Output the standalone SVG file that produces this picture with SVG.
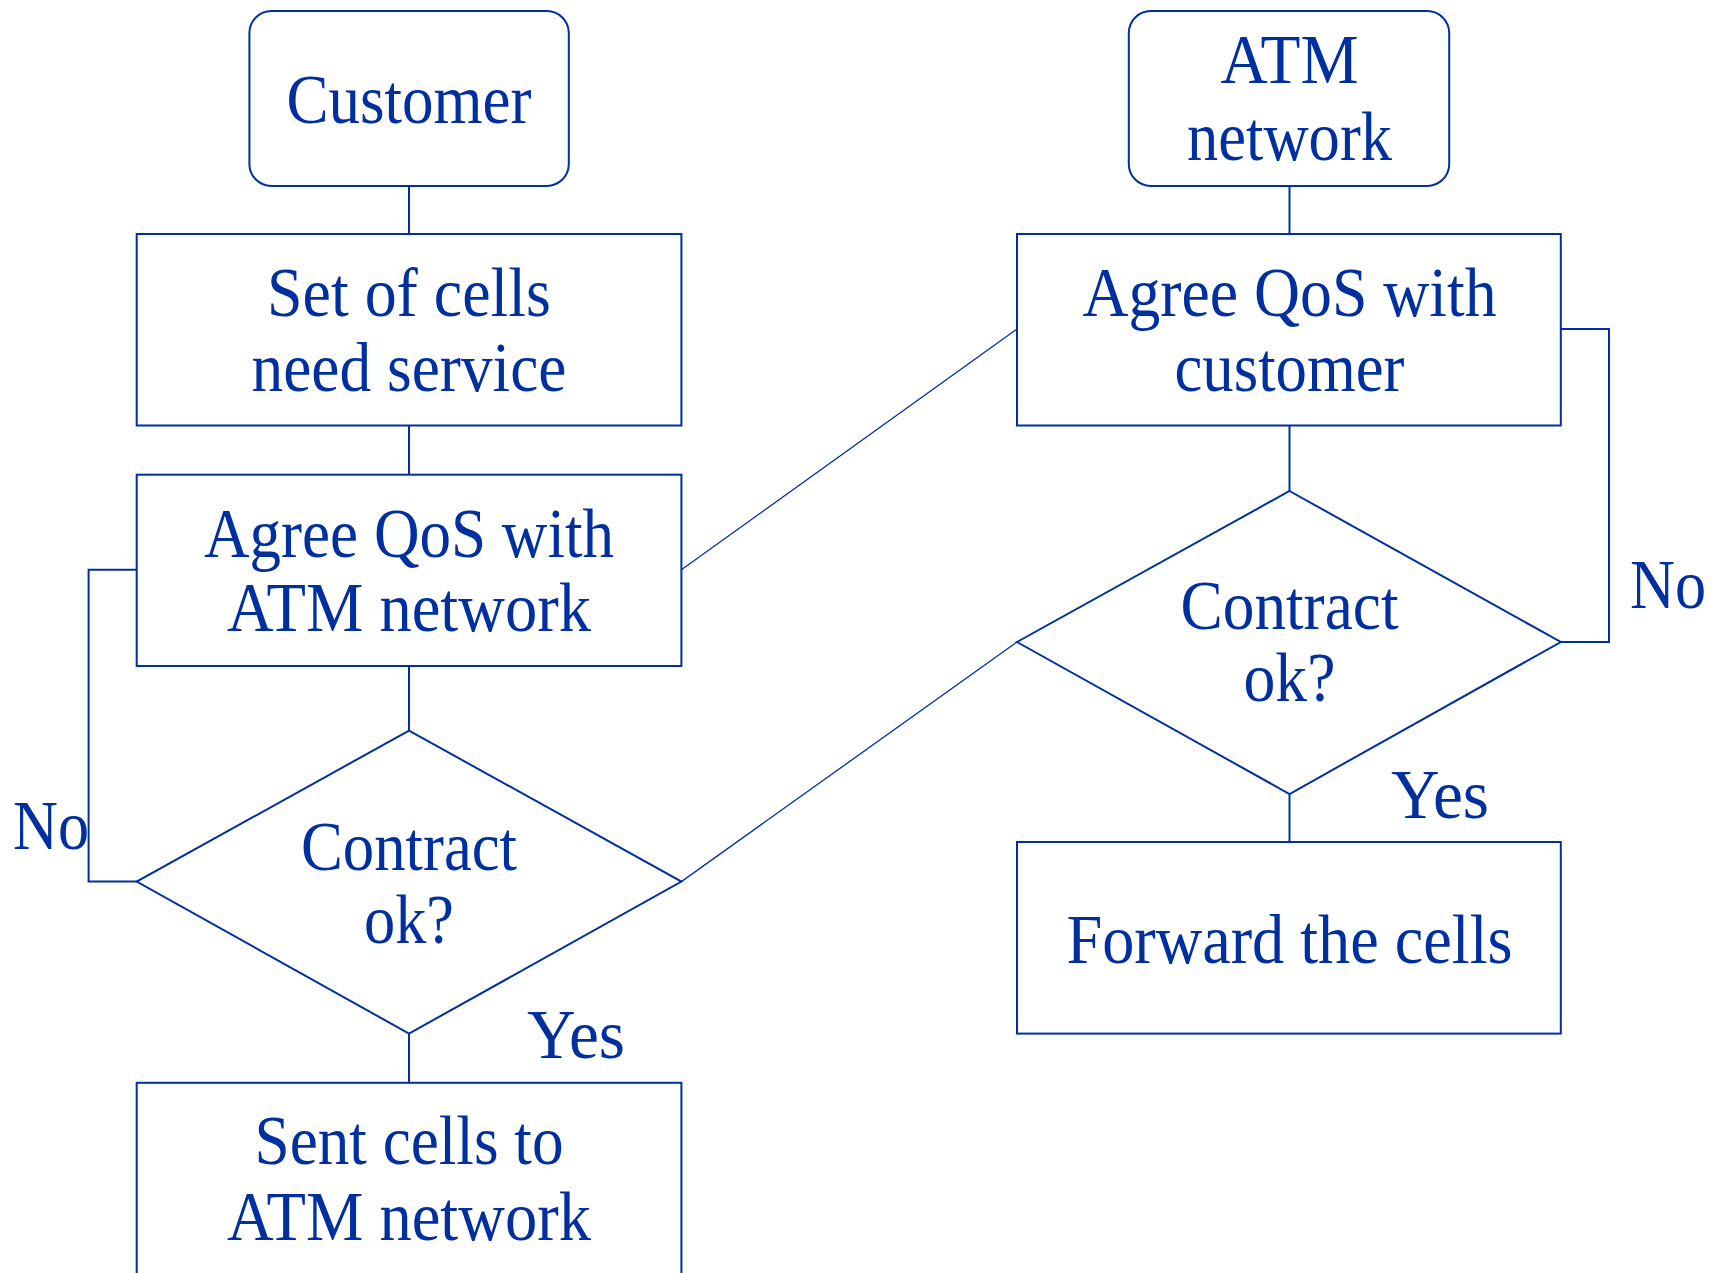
<svg xmlns="http://www.w3.org/2000/svg" width="1715" height="1273" viewBox="0 0 1715 1273">
<style>
.n{fill:#fff;stroke:#0030a0;stroke-width:2}
.c{fill:none;stroke:#0030a0;stroke-width:2}
.thin{fill:none;stroke:#0030a0;stroke-width:1.3}
text{font-family:"Liberation Serif","Times New Roman",serif;font-size:70px;fill:#0030a0;text-anchor:middle}
.l{text-anchor:start}
</style>
<rect width="1715" height="1273" fill="#fff"/>
<g id="connectors">
<line class="c" x1="409" y1="186" x2="409" y2="234"/>
<line class="c" x1="409" y1="425.5" x2="409" y2="474.7"/>
<line class="c" x1="409" y1="666" x2="409" y2="730.6"/>
<line class="c" x1="409" y1="1033.6" x2="409" y2="1082.8"/>
<polyline class="c" points="136.7,569.8 88.6,569.8 88.6,881.6 136.7,881.6"/>
<line class="c" x1="1289.5" y1="186" x2="1289.5" y2="234"/>
<line class="c" x1="1289.5" y1="425.5" x2="1289.5" y2="491"/>
<line class="c" x1="1289.5" y1="794" x2="1289.5" y2="842"/>
<polyline class="c" points="1560.8,329 1609,329 1609,642 1560.8,642"/>
<line class="thin" x1="681.4" y1="569.8" x2="1017" y2="329"/>
<line class="thin" x1="681.4" y1="881.6" x2="1017" y2="642"/>
<text class="l" x="13" y="849" textLength="76" lengthAdjust="spacingAndGlyphs">No</text>
<text class="l" x="527" y="1058" textLength="98" lengthAdjust="spacingAndGlyphs">Yes</text>
<text class="l" x="1630" y="608" textLength="76" lengthAdjust="spacingAndGlyphs">No</text>
<text class="l" x="1391" y="818" textLength="98" lengthAdjust="spacingAndGlyphs">Yes</text>
</g>
<g id="customer">
<rect class="n" x="249.4" y="11" width="319.4" height="175" rx="22"/>
<text x="409" y="122.5" textLength="245" lengthAdjust="spacingAndGlyphs">Customer</text>
</g>
<g id="atm-network">
<rect class="n" x="1128.8" y="11" width="320.4" height="175" rx="22"/>
<text x="1289.5" y="83" textLength="138" lengthAdjust="spacingAndGlyphs">ATM</text>
<text x="1289.5" y="160" textLength="205" lengthAdjust="spacingAndGlyphs">network</text>
</g>
<g id="set-of-cells">
<rect class="n" x="136.7" y="234" width="544.7" height="191.5"/>
<text x="409" y="316" textLength="284" lengthAdjust="spacingAndGlyphs">Set of cells</text>
<text x="409" y="390.5" textLength="315" lengthAdjust="spacingAndGlyphs">need service</text>
</g>
<g id="agree-atm">
<rect class="n" x="136.7" y="474.7" width="544.7" height="191.3"/>
<text x="409" y="557" textLength="410" lengthAdjust="spacingAndGlyphs">Agree QoS with</text>
<text x="409" y="631" textLength="364" lengthAdjust="spacingAndGlyphs">ATM network</text>
</g>
<g id="contract-left">
<polygon class="n" points="409,730.6 681.4,881.6 409,1033.6 136.7,881.6"/>
<text x="409" y="869.5" textLength="216" lengthAdjust="spacingAndGlyphs">Contract</text>
<text x="409" y="943" textLength="90" lengthAdjust="spacingAndGlyphs">ok?</text>
</g>
<g id="sent-cells">
<rect class="n" x="136.7" y="1082.8" width="544.7" height="260"/>
<text x="409" y="1164" textLength="309" lengthAdjust="spacingAndGlyphs">Sent cells to</text>
<text x="409" y="1240" textLength="364" lengthAdjust="spacingAndGlyphs">ATM network</text>
</g>
<g id="agree-customer">
<rect class="n" x="1017" y="234" width="543.8" height="191.5"/>
<text x="1289.5" y="316" textLength="414" lengthAdjust="spacingAndGlyphs">Agree QoS with</text>
<text x="1289.5" y="390.5" textLength="230" lengthAdjust="spacingAndGlyphs">customer</text>
</g>
<g id="contract-right">
<polygon class="n" points="1289.5,491 1560.8,642 1289.5,794 1017,642"/>
<text x="1289.5" y="629" textLength="218" lengthAdjust="spacingAndGlyphs">Contract</text>
<text x="1289.5" y="701" textLength="92" lengthAdjust="spacingAndGlyphs">ok?</text>
</g>
<g id="forward">
<rect class="n" x="1017" y="842" width="543.8" height="191.6"/>
<text x="1289.5" y="962.5" textLength="446" lengthAdjust="spacingAndGlyphs">Forward the cells</text>
</g>
</svg>
